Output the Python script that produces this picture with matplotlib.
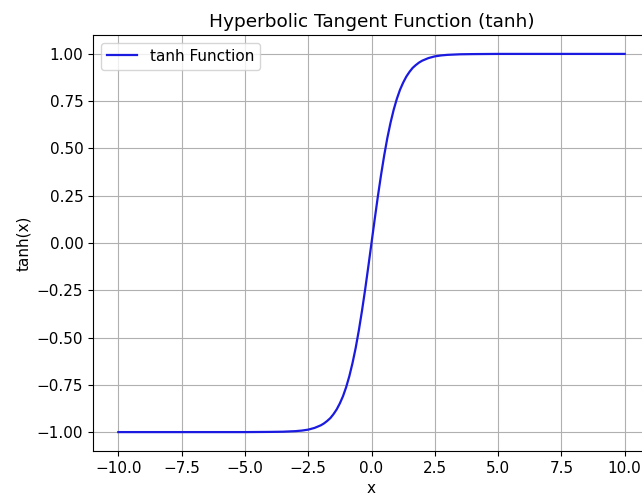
import matplotlib
matplotlib.use('Agg')
import matplotlib.pyplot as plt

# Werte
x_werte = [-10.0, -8.0, -6.0, -5.0, -4.0, -3.5, -3.0, -2.75, -2.5, -2.25, -2.0,
           -1.875, -1.75, -1.625, -1.5, -1.375, -1.25, -1.125, -1.0,
           -0.875, -0.75, -0.625, -0.5, -0.375, -0.25, -0.125, 0.0,
           0.125, 0.25, 0.375, 0.5, 0.625, 0.75, 0.875, 1.0,
           1.125, 1.25, 1.375, 1.5, 1.625, 1.75, 1.875, 2.0,
           2.25, 2.5, 2.75, 3.0, 3.5, 4.0, 5.0, 6.0, 8.0, 10.0]
y_werte = [-1.0, -1.0, -1.0, -1.0, -0.999, -0.998, -0.995, -0.992, -0.987, -0.978, -0.964,
           -0.954, -0.941, -0.926, -0.905, -0.880, -0.848, -0.810, -0.762,
           -0.704, -0.635, -0.555, -0.462, -0.358, -0.245, -0.124, 0.0,
           0.124, 0.245, 0.358, 0.462, 0.555, 0.635, 0.704, 0.762,
           0.810, 0.848, 0.880, 0.905, 0.926, 0.941, 0.954, 0.964,
           0.978, 0.987, 0.992, 0.995, 0.998, 0.999, 1.0, 1.0, 1.0, 1.0]

fig = plt.figure(figsize=(6.42, 5.01), dpi=100)
# Achse ragt rechts etwas über den Bildrand hinaus (wie im Original abgeschnitten)
ax = fig.add_axes([93 / 642, 50 / 501, 557 / 642, 416 / 501])

ax.plot(x_werte, y_werte, color='#1a1ae0', linewidth=1.6, label='tanh Function')
ax.set_title('Hyperbolic Tangent Function (tanh)', fontsize=13.3)
ax.set_xlabel('x', fontsize=11)
ax.set_ylabel('tanh(x)', fontsize=11)
ax.tick_params(labelsize=11)
ax.grid(True)
ax.legend(loc='upper left', fontsize=11)

fig.savefig('out.png', dpi=100)
